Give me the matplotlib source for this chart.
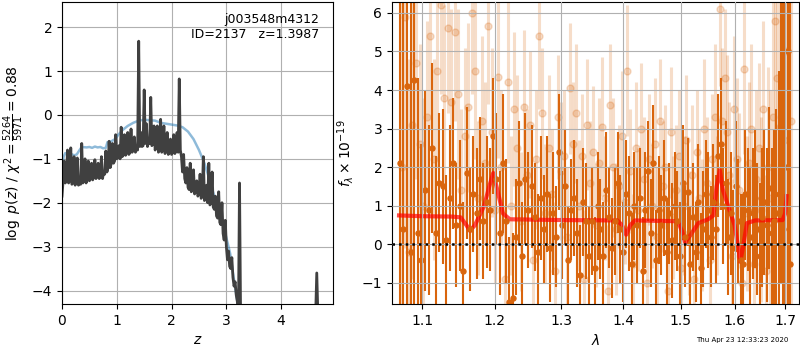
import numpy as np
import matplotlib
matplotlib.use('Agg')
import matplotlib.pyplot as plt
from matplotlib.ticker import FixedLocator, FixedFormatter, NullLocator

# ---- p(z) panel data ----
z_start = 0.0
z_step = 0.02
logpz = [-1.85, -1.50, -1.05, -1.55, -1.50, -0.80, -1.55, -1.50, -0.75, -1.58,
         -1.55, -0.95, -1.60, -1.55, -0.98, -1.60, -1.50, -1.58, -0.65, -1.55,
         -1.50, -1.00, -1.55, -1.45, -1.05, -1.50, -1.45, -1.10, -1.48, -1.40,
         -1.02, -1.45, -1.40, -1.10, -1.45, -1.35, -0.95, -1.45, -1.30, -1.35,
         -0.82, -1.30, -1.20, -0.60, -1.20, -1.10, -0.65, -1.10, -1.05, -0.45,
         -1.00, -0.95, -0.70, -1.00, -0.28, -0.95, -0.90, -0.45, -0.92, -0.85,
         -0.40, -0.90, -0.85, -0.32, -0.85, -0.80, -0.50, -0.85, -0.75, -0.80,
         1.68, -0.72, -0.40, -0.72, -0.70, 0.57, -0.65, -0.20, -0.72, -0.60,
         -0.65, 0.40, -0.70, -0.65, -0.25, -0.80, -0.70, -0.25, -0.85, -0.75,
         -0.10, -0.85, -0.80, -0.25, -0.88, -0.80, -0.40, -0.90, -0.85, -0.55,
         -0.90, -0.85, -0.45, -0.88, -0.80, -0.40, -0.85, 0.82, -0.80, -0.95,
         -1.30, -0.90, -1.45, -1.55, -1.20, -1.65, -1.70, -1.10, -1.75, -1.70,
         -1.25, -1.80, -1.75, -1.50, -1.85, -1.80, -1.35, -1.90, -1.85, -0.95,
         -1.95, -1.90, -1.60, -2.00, -1.10, -2.05, -2.00, -1.30, -2.10, -2.15,
         -1.85, -2.30, -2.35, -1.75, -2.45, -2.50, -2.00, -2.70, -2.85, -2.40,
         -3.00, -3.30, -3.10, -3.45, -3.50, -3.25, -3.70, -3.90, -3.80, -4.10]
z_tail = [3.20, 3.22, 3.24, 3.26, 3.30, 4.00, 4.62, 4.65, 4.68, 4.95]
logpz_tail = [-4.25, -4.60, -1.55, -4.60, -5.20, -8.00, -5.00, -3.60, -5.00, -8.00]

z_prior = [0, 0.03, 0.06, 0.15, 0.22, 0.27, 0.32, 0.36, 0.45, 0.5, 0.55, 0.6,
           0.65, 0.7, 0.75, 0.8, 0.83, 0.9, 0.97, 1.03, 1.1, 1.2, 1.3, 1.4,
           1.5, 1.6, 1.7, 1.8, 1.9, 2.0, 2.1, 2.2, 2.3, 2.4, 2.5, 2.6, 2.7,
           2.8, 2.9, 2.95, 3.0, 3.07, 3.12, 3.17, 3.22, 3.26]
logp_prior = [-1.25, -0.95, -0.87, -0.88, -0.92, -0.90, -0.80, -0.73, -0.74,
              -0.73, -0.75, -0.72, -0.74, -0.73, -0.76, -0.75, -0.62, -0.60,
              -0.55, -0.45, -0.35, -0.25, -0.18, -0.13, -0.11, -0.12, -0.13,
              -0.18, -0.20, -0.22, -0.24, -0.28, -0.38, -0.55, -0.80, -1.10,
              -1.50, -1.95, -2.35, -2.55, -2.80, -3.16, -3.60, -4.00, -4.40,
              -4.80]

# ---- spectrum panel data ----
wave_start = 1.071
wave_step = 0.0047
flux = [2.1, 0.4, 4.1, -0.2, 4.25, 0.3, -0.4, 1.4, 0.9, 2.5,
        0.3, 1.6, 1.5, 0.1, 1.2, 2.1, 0.5, 1.0, -0.7, 1.85,
        0.4, 1.3, 0.8, 1.7, 0.6, 1.1, 0.9, 2.8, 1.7, 0.3,
        2.1, 0.6, -1.5, -1.4, 0.2, 1.6, -0.3, 1.7, 0.9, 1.5,
        0.7, -0.2, 1.2, 0.4, 1.3, -0.1, 0.8, 0.2, 2.4, 0.5,
        1.5, -0.4, 0.9, 1.2, 0.3, -0.8, 1.1, 0.6, -0.3, 0.6,
        -0.6, 1.0, 0.4, -0.3, 1.4, 0.7, -0.1, 0.6, 1.6, 0.4,
        -0.2, 1.3, 0.8, -0.5, 1.0, 0.5, 1.2, -0.7, 0.9, 1.9,
        0.3, 2.1, -0.4, 0.9, 0.5, 1.2, -0.2, 0.8, 0.1, 1.0,
        0.6, -0.3, 1.6, 0.2, 1.35, -0.5, 0.7, -0.2, 1.1, -0.6,
        0.4, 1.3, 0.9, 0.2, 1.1, 0.4, 2.3, 2.6, 1.0, 1.6,
        0.2, 0.8, -0.1, 1.5, 0.6, -0.4, -0.5, 1.3, 0.9, 0.2,
        0.8, 1.2, 0.4, -0.3, 0.7, 1.1, 0.5, 1.45, 0.3, 0.6,
        0.8, 1.3, 3.2, 0.4, 2.0, 5.0, -0.5]
flux_err = [9, 8, 6, 9, 7, 4, 3, 2.6, 2.2, 2.2,
            2.0, 1.8, 2.0, 1.7, 1.9, 1.7, 1.6, 1.7, 1.8, 1.7,
            1.6, 1.5, 1.7, 1.6, 1.5, 1.7, 1.6, 1.5, 1.7, 1.6,
            1.8, 1.6, 1.7, 1.7, 1.5, 1.6, 1.4, 1.7, 1.5, 1.6,
            1.4, 1.5, 1.6, 1.4, 1.5, 1.4, 1.6, 1.3, 1.5, 1.4,
            1.5, 1.4, 1.3, 1.5, 1.4, 1.3, 1.4, 1.5, 1.3, 1.4,
            1.3, 1.4, 1.3, 1.4, 1.5, 1.3, 1.3, 1.4, 1.3, 1.4,
            1.3, 1.4, 1.5, 1.3, 1.4, 1.5, 1.3, 1.4, 1.5, 1.3,
            1.4, 1.5, 1.3, 1.4, 1.3, 1.5, 1.4, 1.3, 1.5, 1.4,
            1.3, 1.4, 1.5, 1.3, 1.4, 1.5, 1.4, 1.3, 1.5, 1.4,
            1.5, 1.4, 1.5, 1.3, 1.5, 1.4, 1.6, 1.7, 1.5, 1.6,
            1.5, 1.6, 1.5, 1.7, 1.6, 1.7, 1.8, 1.7, 1.6, 1.8,
            1.7, 1.8, 1.7, 1.9, 1.8, 1.9, 2.0, 2.1, 2.2, 2.4,
            2.7, 3.2, 4.2, 6, 8, 9, 9]

wave2_start = 1.0733
flux2 = [2.0, 5.9, -0.2, 3.1, 4.7, 2.6, 1.0, 3.3, 5.4, 2.2,
         4.5, 6.2, 3.8, 5.6, 3.7, 5.5, 3.9, 1.4, 2.8, 3.55,
         6.0, 4.5, 1.2, 3.2, 2.1, 5.65, 2.9, 0.9, 4.35, 2.0,
         -0.9, 4.2, 1.0, 3.5, 2.5, 0.6, 3.55, 1.8, 3.1, -0.4,
         2.2, 5.4, 3.4, 0.8, 2.5, 1.3, -0.7, 3.3, 1.9, 2.3,
         0.2, 4.05, 2.6, 3.4, 1.0, 2.3, -0.9, 3.1, 1.6, 2.4,
         0.5, 2.1, 3.05, 1.2, -1.2, 3.6, 2.0, 0.4, 1.5, 2.8,
         1.1, 4.5, 1.9, -0.5, 2.5, 0.9, 3.0, 1.7, -1.0, 2.2,
         1.0, 2.6, 0.2, 3.2, 1.5, 2.0, -1.2, 2.9, 0.7, 1.4,
         2.3, -0.6, 1.0, 2.7, 0.3, 1.8, -0.9, 2.4, 1.2, 0.5,
         3.0, 1.6, -0.4, 2.2, 3.3, 1.0, 6.1, 3.2, 4.3, 2.9,
         1.8, -0.3, 3.5, 2.2, 1.4, -1.0, 4.55, 0.8, 2.1, 3.0,
         -0.5, 1.7, 2.5, 0.9, 3.5, -0.7, 2.0, 1.2, 3.3, 5.8,
         4.3, 3.05, 6.5, 2.7, 5.0, 7.0, 3.2]
flux2_err = [8, 6, 5, 4, 3, 2.6, 2.8, 2.5, 2.4, 2.6,
             2.5, 2.3, 2.4, 2.2, 2.4, 2.3, 2.2, 2.1, 2.3, 2.2,
             2.1, 2.3, 2.0, 2.2, 2.1, 2.0, 2.2, 1.9, 2.1, 2.0,
             1.9, 2.1, 1.8, 2.0, 1.9, 1.8, 2.0, 1.7, 1.9, 1.8,
             1.8, 1.9, 1.7, 1.8, 1.9, 1.7, 1.8, 1.6, 1.8, 1.7,
             1.8, 1.7, 1.6, 1.8, 1.7, 1.6, 1.8, 1.7, 1.6, 1.7,
             1.6, 1.7, 1.8, 1.6, 1.7, 1.6, 1.8, 1.7, 1.6, 1.7,
             1.6, 1.7, 1.6, 1.8, 1.7, 1.6, 1.7, 1.6, 1.8, 1.7,
             1.6, 1.7, 1.8, 1.6, 1.7, 1.6, 1.8, 1.7, 1.6, 1.7,
             1.7, 1.6, 1.8, 1.7, 1.6, 1.8, 1.7, 1.6, 1.8, 1.7,
             1.8, 1.7, 1.8, 1.7, 1.9, 1.8, 2.0, 1.9, 1.8, 2.0,
             1.9, 2.0, 1.9, 2.1, 2.0, 2.1, 2.2, 2.0, 2.1, 2.2,
             2.2, 2.3, 2.2, 2.4, 2.3, 2.5, 2.6, 2.8, 3.0, 3.3,
             3.6, 4.0, 5.0, 6, 7, 8, 9]

model_wave = [1.070, 1.100, 1.140, 1.152, 1.160, 1.165, 1.172, 1.185, 1.193,
              1.198, 1.204, 1.212, 1.222, 1.300, 1.390, 1.398, 1.405, 1.412,
              1.420, 1.495, 1.502, 1.508, 1.518, 1.532, 1.550, 1.560, 1.566,
              1.572, 1.578, 1.590, 1.600, 1.606, 1.611, 1.616, 1.624, 1.640,
              1.695, 1.700, 1.703]
model_flux = [0.75, 0.73, 0.72, 0.70, 0.50, 0.35, 0.50, 1.00, 1.55, 1.85,
              1.40, 0.80, 0.65, 0.63, 0.62, 0.50, 0.25, 0.50, 0.62, 0.60,
              0.35, 0.05, 0.25, 0.55, 0.65, 0.75, 1.50, 1.92, 1.40, 0.90,
              0.50, 0.00, -0.45, -0.10, 0.55, 0.62, 0.63, 0.80, 1.25]

wave_ticks = [1.1, 1.2, 1.3, 1.4, 1.5, 1.6, 1.7]

orange = '#d9650d'

fig = plt.figure(figsize=(8, 3.5), dpi=100)
ax1 = fig.add_axes([0.0775, 0.131, 0.339, 0.863])
ax2 = fig.add_axes([0.49, 0.131, 0.509, 0.863])

# left: p(z)
zgrid = z_start + z_step*np.arange(len(logpz))
zz = np.concatenate([zgrid, z_tail])
pp = np.concatenate([logpz, logpz_tail])
ax1.plot(z_prior, logp_prior, color='#1f77b4', alpha=0.5, lw=1.8)
ax1.plot(zz, pp, color='0.25', lw=2)
ax1.set_xlim(0, 4.95)
ax1.set_ylim(-4.31, 2.57)
ax1.grid()
ax1.set_xlabel(r'$z$')
ax1.set_ylabel(r'$\log\ p(z)$ / $\chi^2=\frac{5264}{5971}=0.88$')
ax1.text(0.948, 0.965, 'j003548m4312\nID=2137   z=1.3987',
         transform=ax1.transAxes, ha='right', va='top', fontsize=9)

# right: spectrum
wv2 = wave2_start + wave_step*np.arange(len(flux2))
wv = wave_start + wave_step*np.arange(len(flux))
ax2.errorbar(wv2, flux2, flux2_err, color=orange, alpha=0.22, marker='o',
             ms=5, linestyle='None', elinewidth=2.2)
ax2.errorbar(wv, flux, flux_err, color=orange, alpha=1.0, marker='o',
             ms=3.6, linestyle='None', elinewidth=1.5)
ax2.plot(model_wave, model_flux, color='r', alpha=0.7, lw=3)
ax2.axhline(0, color='k', linestyle=':', lw=1.8, zorder=5)
ax2.set_xscale('log')
ax2.set_xlim(1.061, 1.729)
ax2.set_ylim(-1.55, 6.28)
ax2.xaxis.set_major_locator(FixedLocator(wave_ticks))
ax2.xaxis.set_major_formatter(FixedFormatter(['%.1f' % w for w in wave_ticks]))
ax2.xaxis.set_minor_locator(NullLocator())
ax2.set_axisbelow(False)
ax2.grid()
ax2.set_xlabel(r'$\lambda$')
ax2.set_ylabel(r'$f_\lambda\times10^{-19}$')

fig.text(0.985, 0.022, 'Thu Apr 23 12:33:23 2020', ha='right', fontsize=5)

fig.savefig('out.png', dpi=100)
